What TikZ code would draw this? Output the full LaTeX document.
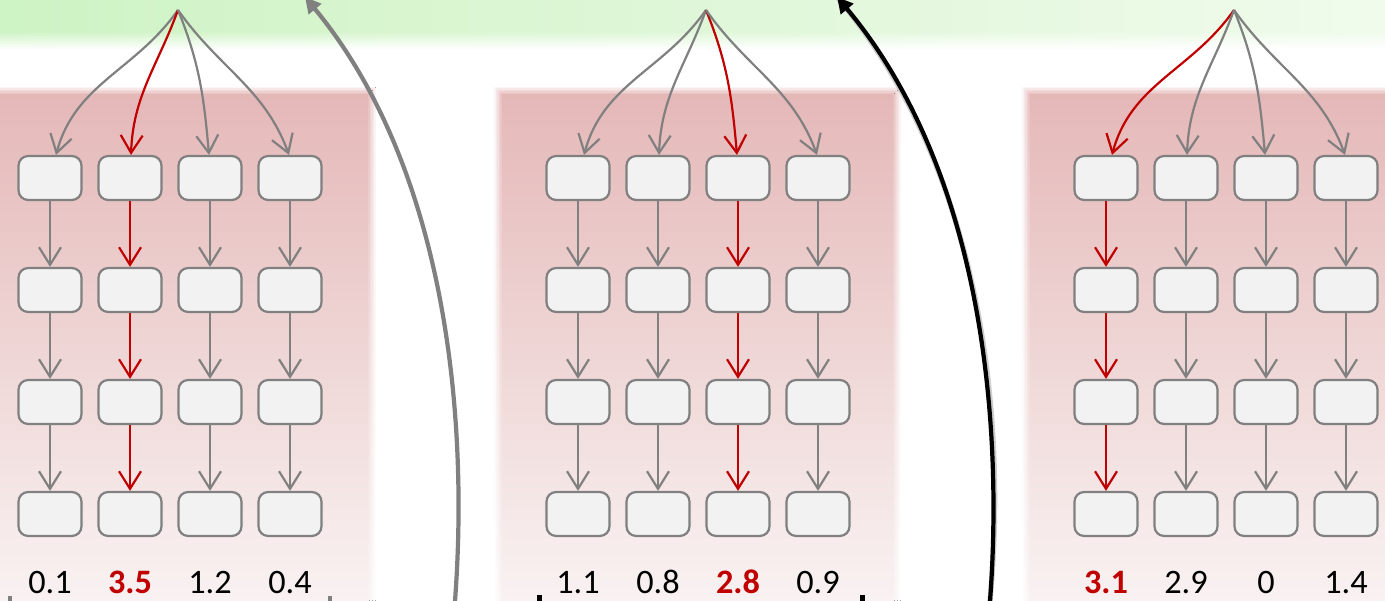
\documentclass[tikz,border=0pt]{standalone}
\usepackage{fontspec}
\setmainfont{Carlito}
\usetikzlibrary{arrows.meta}

\definecolor{edgegray}{RGB}{128,128,128}
\definecolor{pathred}{RGB}{192,0,0}
\definecolor{cellfill}{RGB}{242,242,242}
\definecolor{bandleft}{RGB}{206,243,196}
\definecolor{bandright}{RGB}{240,251,236}
\definecolor{paneltop}{RGB}{229,184,184}
\definecolor{panelbottom}{RGB}{249,242,242}

\tikzset{
  cell/.style={draw=edgegray, fill=cellfill, line width=1.25pt, rounded corners=5.5pt,
    minimum width=1.26cm, minimum height=0.88cm, inner sep=0pt},
  link/.style={line width=1.25pt, -{Straight Barb[length=10pt,width=12.5pt]}},
  score/.style={anchor=base, inner sep=0pt, font=\fontsize{19.5}{22}\selectfont},
  bigarc/.style={line width=2.4pt, -{Triangle[length=9pt,width=9pt]}},
}

\begin{document}
\begin{tikzpicture}[x=0.02cm, y=0.02cm]
\useasboundingbox (0,0) rectangle (1385,601);

% Band, with a soft lower edge
\foreach \k in {8,...,1} {
    \pgfmathtruncatemacro\o{100-\k*100/9}
    \fill[left color=bandleft!\o!white, right color=bandright!\o!white] (0,568-2*\k) rectangle (1385,601);
}
\fill[left color=bandleft, right color=bandright] (0,568) rectangle (1385,601);

% Panels, with soft sides
\foreach \a/\b in {0/368, 502/893, 1030/1385} {
    \foreach \k in {5,...,1} {
        \pgfmathtruncatemacro\o{100-\k*100/6}
        \fill[top color=paneltop!\o!white, bottom color=panelbottom!\o!white]
            (\a-1.5*\k,0) rectangle (\b+1.5*\k,506+1.5*\k);
    }
    \fill[top color=paneltop, bottom color=panelbottom] (\a,0) rectangle (\b,506);
}

% Columns of cells
\foreach \p/\hot/\vals in {0/2/{0.1,3.5,1.2,0.4}, 1/3/{1.1,0.8,2.8,0.9}, 2/1/{3.1,2.9,0,1.4}} {
    \coordinate (root-\p) at (178+528*\p, 591);
    \foreach \v [count=\c] in \vals {
        \ifnum\c=\hot \def\ink{pathred}\def\fmt{\bfseries}\else\def\ink{edgegray}\def\fmt{}\fi
        \foreach \r in {1,2,3,4} {
            \node[cell] (cell-\p-\c-\r) at (-30+80*\c+528*\p, 535-112*\r) {};
        }
        \foreach \r [evaluate=\r as \s using int(\r+1)] in {1,2,3} {
            \draw[link, draw=\ink] (cell-\p-\c-\r) -- (cell-\p-\c-\s);
        }
        \ifnum\c=\hot \def\ink{pathred}\else\def\ink{black}\fi
        \node[score, text=\ink] (score-\p-\c) at (-30+80*\c+528*\p, 7) {\fmt\v};
    }
    % fan out from the root
    \foreach \c/\o/\i/\dx in {1/-125/75/6, 2/-110/88/1, 3/-68/95/-1, 4/-55/110/-1} {
        \ifnum\c=\hot \def\ink{pathred}\else\def\ink{edgegray}\fi
        \draw[link, draw=\ink] (root-\p) to[out=\o, in=\i] ([xshift=\dx*0.02cm]cell-\p-\c-1.north);
    }
}

% Stubs along the bottom edge
\fill[edgegray] (8,0) rectangle (12,5);
\fill[edgegray] (328,0) rectangle (332,5);
\fill[black] (537,0) rectangle (542,6);
\fill[black] (860,0) rectangle (865,6);

% Return arcs
\coordinate (arcA-foot) at (455,0);
\coordinate (arcA-head) at (305,604);
\coordinate (arcB-foot) at (990,0);
\coordinate (arcB-head) at (837,604);
\draw[bigarc, edgegray] (arcA-foot) .. controls (470,201) and (440,441) .. (arcA-head);
\draw[line width=3pt, black!20, shift={(3,-3)}] (arcB-foot) .. controls (1005,201) and (974,441) .. (arcB-head);
\draw[bigarc, black] (arcB-foot) .. controls (1005,201) and (974,441) .. (arcB-head);
\end{tikzpicture}
\end{document}
